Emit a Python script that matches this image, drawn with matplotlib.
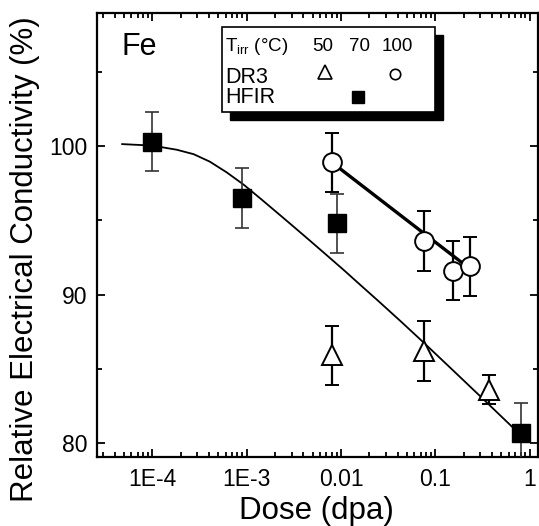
import numpy as np
import matplotlib
matplotlib.use("Agg")
import matplotlib.pyplot as plt
from matplotlib.ticker import FixedLocator, FixedFormatter, LogLocator, MultipleLocator, NullFormatter
from matplotlib.patches import Rectangle

plt.rcParams['font.family'] = ['Liberation Sans', 'DejaVu Sans']
plt.rcParams['mathtext.fontset'] = 'custom'
plt.rcParams['mathtext.rm'] = 'Liberation Sans'
plt.rcParams['mathtext.it'] = 'Liberation Sans'

# HFIR, 70 C (filled squares)
hfir_dose = [1e-4, 9e-4, 0.009, 0.8]
hfir_cond = [100.3, 96.5, 94.8, 80.7]
hfir_err = [2.0, 2.0, 2.0, 2.0]

# DR3, 100 C (open circles)
dr3_100_dose = [0.008, 0.075, 0.152, 0.23]
dr3_100_cond = [98.9, 93.6, 91.6, 91.9]
dr3_100_err = [2.0, 2.0, 2.0, 2.0]

# DR3, 50 C (open triangles)
dr3_50_dose = [0.008, 0.075, 0.37]
dr3_50_cond = [85.9, 86.2, 83.6]
dr3_50_err = [2.0, 2.0, 1.0]

# fit curve through HFIR data
fit_dose = [4.8e-5, 1e-4, 1.82e-4, 2.75e-4, 4.07e-4, 6.17e-4, 9.3e-4, 1.39e-3, 2.09e-3,
            3.16e-3, 4.68e-3, 7.08e-3, 0.0106, 0.0158, 0.0251, 0.0437, 0.0752, 0.158,
            0.316, 0.665, 0.8]
fit_cond = [100.13, 100.03, 99.75, 99.45, 98.95, 98.22, 97.4, 96.48, 95.53,
            94.56, 93.63, 92.64, 91.67, 90.68, 89.54, 88.15, 86.76, 84.82,
            83.0, 81.03, 80.55]

# straight fit through DR3 100 C data
line_dose = [0.008, 0.23]
line_cond = [98.9, 91.75]

xticks = [1e-4, 1e-3, 1e-2, 1e-1, 1]
xticklabels = ['1E-4', '1E-3', '0.01', '0.1', '1']

fig = plt.figure(figsize=(5.39, 5.26), dpi=100)
ax = fig.add_axes([0.18, 0.131, 0.818, 0.844])
ax.set_xscale('log')
ax.set_xlim(2.6e-5, 1.22)
ax.set_ylim(79.05, 108.95)

ax.plot(fit_dose, fit_cond, color='black', lw=1.3, zorder=2)
ax.plot(line_dose, line_cond, color='black', lw=2.4, zorder=2)

ax.errorbar(hfir_dose, hfir_cond, yerr=hfir_err, fmt='s', color='black', ms=12.5,
            mfc='black', mec='black', ecolor='#333333', elinewidth=1.2, capsize=5, capthick=1.2, zorder=3)
ax.errorbar(dr3_100_dose, dr3_100_cond, yerr=dr3_100_err, fmt='o', ms=13.5,
            mfc='white', mec='black', mew=1.4, ecolor='black', elinewidth=1.6, capsize=5, capthick=1.6, zorder=3)
ax.errorbar(dr3_50_dose, dr3_50_cond, yerr=dr3_50_err, fmt='^', ms=15,
            mfc='white', mec='black', mew=1.4, ecolor='black', elinewidth=1.6, capsize=5, capthick=1.6, zorder=3)

ax.xaxis.set_major_locator(FixedLocator(xticks))
ax.xaxis.set_major_formatter(FixedFormatter(xticklabels))
ax.xaxis.set_minor_locator(LogLocator(base=10, subs=np.arange(2, 10), numticks=20))
ax.xaxis.set_minor_formatter(NullFormatter())
ax.yaxis.set_major_locator(MultipleLocator(10))
ax.yaxis.set_minor_locator(MultipleLocator(5))

ax.tick_params(which='both', direction='in', top=True, right=True, width=1.3, labelsize=16.5)
ax.tick_params(which='major', length=6)
ax.tick_params(which='minor', length=3.5)
ax.tick_params(axis='x', pad=8)
ax.tick_params(axis='y', pad=7)
for s in ax.spines.values():
    s.set_linewidth(1.6)

ax.set_xlabel('Dose (dpa)', fontsize=22.5)
ax.set_ylabel('Relative Electrical Conductivity (%)', fontsize=22.5)
ax.xaxis.set_label_coords(0.497, -0.088)
ax.yaxis.set_label_coords(-0.13, 0.447)

ax.text(0.056, 0.905, 'Fe', transform=ax.transAxes, fontsize=22, va='baseline', ha='left')

# legend box with shadow
ax.add_patch(Rectangle((0.301, 0.76), 0.483, 0.191, transform=ax.transAxes,
                       facecolor='black', edgecolor='black', zorder=5))
ax.add_patch(Rectangle((0.283, 0.778), 0.483, 0.191, transform=ax.transAxes,
                       facecolor='white', edgecolor='black', lw=1.2, zorder=6))
ax.text(0.29, 0.915, r'T$_{\rm irr}$ (°C)', transform=ax.transAxes, fontsize=13.5, va='baseline', ha='left', zorder=7)
ax.text(0.513, 0.915, '50', transform=ax.transAxes, fontsize=13.5, va='baseline', ha='center', zorder=7)
ax.text(0.596, 0.915, '70', transform=ax.transAxes, fontsize=13.5, va='baseline', ha='center', zorder=7)
ax.text(0.681, 0.915, '100', transform=ax.transAxes, fontsize=13.5, va='baseline', ha='center', zorder=7)
ax.text(0.29, 0.842, 'DR3', transform=ax.transAxes, fontsize=15.5, va='baseline', ha='left', zorder=7)
ax.text(0.29, 0.797, 'HFIR', transform=ax.transAxes, fontsize=15.5, va='baseline', ha='left', zorder=7)
ax.plot([0.517], [0.868], '^', transform=ax.transAxes, ms=9.6, mfc='white', mec='black', mew=1.2, zorder=7, clip_on=False)
ax.plot([0.676], [0.864], 'o', transform=ax.transAxes, ms=7.5, mfc='white', mec='black', mew=1.2, zorder=7, clip_on=False)
ax.plot([0.593], [0.810], 's', transform=ax.transAxes, ms=8.4, mfc='black', mec='black', zorder=7, clip_on=False)

fig.savefig('out.png', dpi=100)
